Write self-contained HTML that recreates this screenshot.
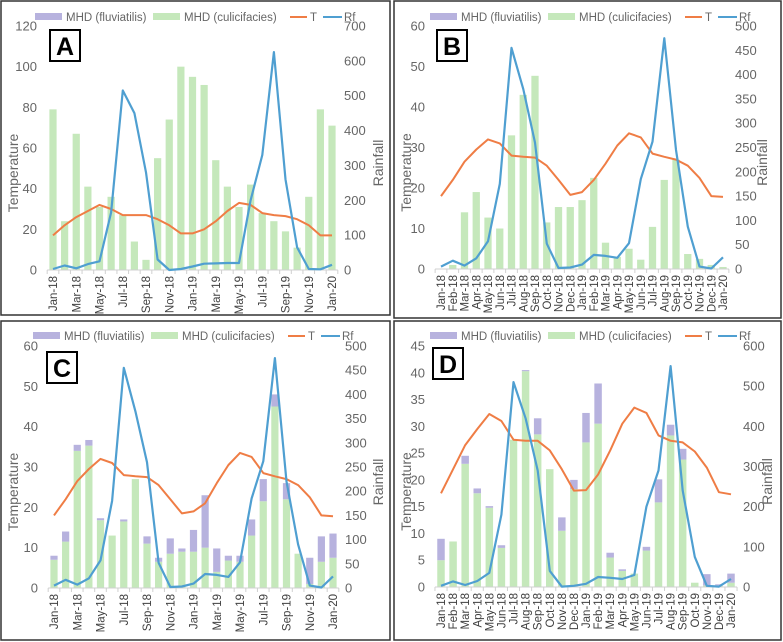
<!DOCTYPE html>
<html><head><meta charset="utf-8">
<style>
html,body{margin:0;padding:0;background:#fff;}
svg{display:block;font-family:"Liberation Sans",Arial,sans-serif;}
</style></head>
<body>
<svg id="chart" width="783" height="642" viewBox="0 0 783 642" xmlns="http://www.w3.org/2000/svg"></svg>
<script>
const months = ["Jan-18","Feb-18","Mar-18","Apr-18","May-18","Jun-18","Jul-18","Aug-18","Sep-18","Oct-18","Nov-18","Dec-18","Jan-19","Feb-19","Mar-19","Apr-19","May-19","Jun-19","Jul-19","Aug-19","Sep-19","Oct-19","Nov-19","Dec-19","Jan-20"];

const culA = [79,24,67,41,31,36,27,14,5,55,74,100,95,91,54,41,31,42,28,24,19,11,36,79,71];
const fluA = [0,0,0,0,0,0,0,0,0,0,0,0,0,0,0,0,0,0,0,0,0,0,0,0,0];
const tempA = [17,22,26,29,32,30,27,27,27,25,22,18,18,20,24,29,33,32,28,27,26.5,25,22,17,17];
const rainA = [3,13,5,17,25,165,515,450,280,30,0,3,10,18,19,20,20,200,330,625,260,65,3,2,15];

const culB = [0,1,14,19,12.7,10,33,43,47.7,11.5,15.3,15.3,17,22.5,6.5,3,5,2.3,10.4,22,27,3.7,2.5,1,0.5];
const fluB = [0,0,0,0,0,0,0,0,0,0,0,0,0,0,0,0,0,0,0,0,0,0,0,0,0];
const tempB = [18,22,26.5,29.5,32,31,28,27.7,27.5,25.5,22,18.3,19,22,26,30.5,33.5,32.5,28.5,27.7,27,25.5,22.5,18,17.8];
const rainB = [5,17,7,22,57,175,455,370,260,52,2,3,9,29,27,23,53,185,262,475,245,87,5,1,24];

const culC = [7,11.5,34,35.3,16.8,13,16.5,27,11,6.5,8.5,9,9,10,4,6.8,6.5,13,21.5,45,22,8.5,1,6.5,7.5];
const fluC = [1,2.5,1.5,1.4,0.5,0,0.5,0,1.8,1,3.8,0.8,5.4,13,5.8,1.2,1.5,4,5.5,3,4,0,6.5,6.3,6];
const tempC = [18,22,26.5,29.5,32,31,28,27.7,27.5,25.5,22,18.5,19,21,26,30.5,33.5,32.5,28.5,27.7,27,25.5,22.5,18,17.8];
const rainC = [5,17,7,20,57,180,455,365,260,52,2,3,9,29,27,23,53,185,262,475,220,90,5,1,24];

const culD = [5,8.5,23,17.5,14.8,7.3,27.5,40.3,28.5,22,10.5,18.3,27,30.5,5.5,3,2.5,6.8,15.8,28.3,23.8,0.8,0.3,0.3,0.8];
const fluD = [4,0,1.5,0.9,0.3,0.5,0,0.2,3,0,2.5,1.7,5.5,7.5,0.9,0.3,0,0.7,4.3,2,2,0,2.1,0.2,1.7];
const tempD = [17.5,22,26.5,29.5,32.3,31,27.5,27.3,27.3,25.5,22,18,18.1,21,25.5,30.5,33.5,32.5,28.3,27.3,27,25.3,22.3,17.7,17.3];
const rainD = [3,14,5,15,35,180,510,420,290,40,1,3,8,25,23,20,30,200,290,550,240,75,3,1,20];

const NS = "http://www.w3.org/2000/svg";
const svg = document.getElementById("chart");
function mk(tag, attrs, parent, text){
  const e = document.createElementNS(NS, tag);
  for (const k in attrs) e.setAttribute(k, attrs[k]);
  if (text !== undefined) e.textContent = text;
  (parent||svg).appendChild(e);
  return e;
}

const panels = [
  {id:"a", label:"A", frame:[1,1,390,315], x0:53, x1:332, y0:270, yTop:26, lMax:120, lStep:20, rMax:700, rStep:100, allLabels:false, cul:culA, flu:fluA, temp:tempA, rain:rainA, legY:17, legX:35, lblX:50, lblY:30, rtX:383},
  {id:"b", label:"B", frame:[394,1,781,318], x0:441, x1:723, y0:269, yTop:26, lMax:60, lStep:10, rMax:500, rStep:50, allLabels:true, cul:culB, flu:fluB, temp:tempB, rain:rainB, legY:17, legX:430, lblX:437, lblY:30, rtX:767},
  {id:"c", label:"C", frame:[1,321,390,640], x0:54, x1:333, y0:588, yTop:346, lMax:60, lStep:10, rMax:500, rStep:50, allLabels:false, cul:culC, flu:fluC, temp:tempC, rain:rainC, legY:336, legX:33, lblX:47, lblY:352, rtX:383},
  {id:"d", label:"D", frame:[394,321,781,640], x0:441, x1:731, y0:587, yTop:346, lMax:45, lStep:5, rMax:600, rStep:100, allLabels:true, cul:culD, flu:fluD, temp:tempD, rain:rainD, legY:336, legX:430, lblX:433, lblY:348, rtX:772}
];

const GREEN="#c5e8bb", PURPLE="#b7b2de", ORANGE="#ef7d45", BLUE="#4f9fd1", TXT="#666666";

panels.forEach(p=>{
  const g = mk("g",{}, svg);
  
  
  const fr = mk("rect",{x:p.frame[0],y:p.frame[1],width:p.frame[2]-p.frame[0],height:p.frame[3]-p.frame[1],fill:"none",stroke:"#333","stroke-width":1.5}, g);
  
  
  const n = months.length;
  const step = (p.x1-p.x0)/(n-1);
  const xs = i => p.x0 + i*step;
  const yL = v => p.y0 - v/p.lMax*(p.y0-p.yTop);
  const yR = v => p.y0 - v/p.rMax*(p.y0-p.yTop);
  const bw = step*0.62;

  for (let v=0; v<=p.lMax+1e-9; v+=p.lStep){
    const t = mk("text",{x:p.x0-16,y:yL(v)+4.5,"text-anchor":"end","font-size":13,fill:TXT}, g, String(v));
    
    
  }
  for (let v=0; v<=p.rMax+1e-9; v+=p.rStep){
    const t = mk("text",{x:p.x1+12,y:yR(v)+4.5,"text-anchor":"start","font-size":13,fill:TXT}, g, String(v));
    
    
  }
  const lt = mk("text",{transform:`translate(${p.frame[0]+17},${(p.y0+p.yTop)/2+25}) rotate(-90)`,"text-anchor":"middle","font-size":14,fill:TXT}, g, "Temperature");
  
  
  const rt = mk("text",{transform:`translate(${p.rtX},${(p.y0+p.yTop)/2+15}) rotate(-90)`,"text-anchor":"middle","font-size":14,fill:TXT}, g, "Rainfall");
  
  

  for (let i=0;i<n;i++){
    const c = p.cul[i], f = p.flu[i];
    if (c>0){
      const b = mk("rect",{x:xs(i)-bw/2,y:yL(c),width:bw,height:p.y0-yL(c),fill:GREEN}, g);
      
      
    }
    if (f>0){
      const b = mk("rect",{x:xs(i)-bw/2,y:yL(c+f),width:bw,height:yL(c)-yL(c+f),fill:PURPLE}, g);
      
      
    }
  }
  const ax = mk("line",{x1:p.x0-step/2,x2:p.x1+step/2,y1:p.y0,y2:p.y0,stroke:"#d0d0d0","stroke-width":1}, g);
  
  
  for (let i=0;i<=n;i++){
    const tk = mk("line",{x1:p.x0-step/2+i*step,x2:p.x0-step/2+i*step,y1:p.y0,y2:p.y0+4,stroke:"#d0d0d0"}, g);
    
    
  }
  for (let i=0;i<n;i++){
    if (!p.allLabels && i%2) continue;
    const t = mk("text",{transform:`translate(${xs(i)+4},${p.y0+6}) rotate(-90)`,"text-anchor":"end","font-size":11.5,fill:"#404040"}, g, months[i]);
    
    
  }
  const tp = p.temp.map((v,i)=>`${xs(i).toFixed(1)},${yL(v).toFixed(1)}`).join(" ");
  const tl = mk("polyline",{points:tp,fill:"none",stroke:ORANGE,"stroke-width":2,"stroke-linejoin":"round"}, g);
  
  
  const rp = p.rain.map((v,i)=>`${xs(i).toFixed(1)},${yR(v).toFixed(1)}`).join(" ");
  const rl = mk("polyline",{points:rp,fill:"none",stroke:BLUE,"stroke-width":2.2,"stroke-linejoin":"round"}, g);
  
  

  const L = p.legX, Y = p.legY;
  const s1 = mk("rect",{x:L,y:Y-4,width:27,height:7,fill:PURPLE}, g);
  
  
  const t1 = mk("text",{x:L+31,y:Y+4,"font-size":11.5,fill:TXT}, g, "MHD (fluviatilis)");
  
  
  const s2 = mk("rect",{x:L+118,y:Y-4,width:27,height:7,fill:GREEN}, g);
  
  
  const t2 = mk("text",{x:L+149,y:Y+4,"font-size":11.5,fill:TXT}, g, "MHD (culicifacies)");
  
  
  const s3 = mk("line",{x1:L+255,x2:L+272,y1:Y,y2:Y,stroke:ORANGE,"stroke-width":2}, g);
  
  
  const t3 = mk("text",{x:L+275,y:Y+4,"font-size":11.5,fill:TXT}, g, "T");
  
  
  const s4 = mk("line",{x1:L+288,x2:L+307,y1:Y,y2:Y,stroke:BLUE,"stroke-width":2}, g);
  
  
  const t4 = mk("text",{x:L+309,y:Y+4,"font-size":11.5,fill:TXT}, g, "Rf");
  
  

  const lb = mk("rect",{x:p.lblX,y:p.lblY,width:30,height:31,fill:"#fff",stroke:"#000","stroke-width":2}, g);
  
  
  const lt2 = mk("text",{x:p.lblX+15,y:p.lblY+25,"text-anchor":"middle","font-size":25,"font-weight":"bold",fill:"#000"}, g, p.label);
  
  
});
</script>
</body></html>
